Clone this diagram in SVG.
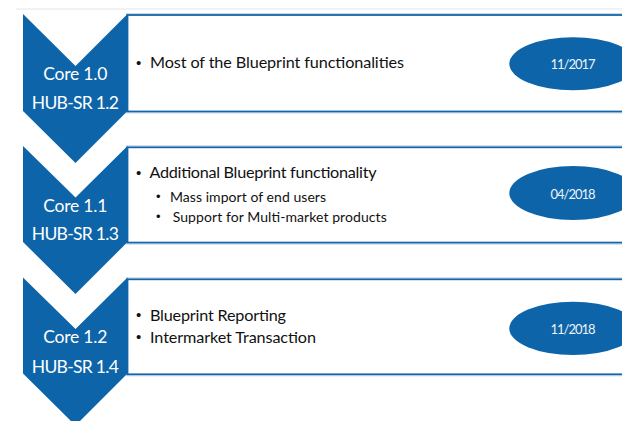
<svg xmlns="http://www.w3.org/2000/svg" width="622" height="421" viewBox="0 0 622 421">
<style>
.chev{fill:#0d64a8;}
.box{fill:#ffffff;stroke:#1565aa;stroke-width:1.8;}
.boxsh{fill:none;stroke:#c9d8e8;stroke-width:1;}
.ell{fill:#0d64a8;}
.ct{font-family:Lato,"Liberation Sans",Arial,sans-serif;font-size:17.5px;fill:#ffffff;text-anchor:middle;}
.dt{font-family:Lato,"Liberation Sans",Arial,sans-serif;font-size:13px;fill:#eef3f8;text-anchor:middle;}
.bt{font-family:Lato,"Liberation Sans",Arial,sans-serif;font-size:16.2px;fill:#111111;}
.st{font-family:Lato,"Liberation Sans",Arial,sans-serif;font-size:14px;fill:#111111;}
.bl{font-family:"Liberation Sans",Arial,sans-serif;font-size:15px;fill:#111111;}
.sbl{font-family:"Liberation Sans",Arial,sans-serif;font-size:13px;fill:#111111;}
</style>
<rect width="622" height="421" fill="#ffffff"/>
<line x1="16" y1="9" x2="622" y2="9" stroke="#e6e6e6" stroke-width="1.2"/>
<g id="connectors"></g>

<g id="node1">
<rect class="boxsh" x="126.5" y="13.5" width="520" height="99.5"/>
<rect class="box" x="127.5" y="15" width="520" height="96.5"/>
<polygon class="chev" points="23,14 75.5,66 127.5,14 127.5,111 75.5,163 23,111"/>
<text class="ct" x="75.3" y="80" textLength="64">Core 1.0</text>
<text class="ct" x="75.3" y="109" textLength="87">HUB-SR 1.2</text>
<text class="bl" x="136" y="67.5">•</text>
<text class="bt" x="150" y="68" textLength="254">Most of the Blueprint functionalities</text>
<ellipse class="ell" cx="573" cy="63.8" rx="63.7" ry="26.5"/>
<text class="dt" x="573" y="69" textLength="45">11/2017</text>
</g>

<g id="node2">
<rect class="boxsh" x="126.5" y="145.7" width="520" height="98.5"/>
<rect class="box" x="127.5" y="147.3" width="520" height="95.3"/>
<polygon class="chev" points="23,146 75.5,197.5 127.5,146 127.5,242 75.5,294 23,242"/>
<text class="ct" x="75.3" y="211.7" textLength="64">Core 1.1</text>
<text class="ct" x="75.3" y="240" textLength="87">HUB-SR 1.3</text>
<text class="bl" x="136" y="177.8">•</text>
<text class="bt" x="149.5" y="178.3" textLength="227">Additional Blueprint functionality</text>
<text class="sbl" x="156" y="201.2">•</text>
<text class="st" x="170" y="201.7" textLength="156">Mass import of end users</text>
<text class="sbl" x="156" y="221.2">•</text>
<text class="st" x="172.7" y="221.7" textLength="214">Support for Multi-market products</text>
<ellipse class="ell" cx="573" cy="193" rx="63.7" ry="27"/>
<text class="dt" x="573" y="198.5" textLength="45">04/2018</text>
</g>

<g id="node3">
<rect class="boxsh" x="126.5" y="277.8" width="520" height="98"/>
<rect class="box" x="127.5" y="279.3" width="520" height="95"/>
<polygon class="chev" points="23,277.5 75.5,329 127.5,277.5 127.5,373.5 75.5,425.5 23,373.5"/>
<text class="ct" x="75.3" y="343.3" textLength="64">Core 1.2</text>
<text class="ct" x="75.3" y="372.7" textLength="87">HUB-SR 1.4</text>
<text class="bl" x="136" y="320.2">•</text>
<text class="bt" x="150" y="320.7" textLength="136">Blueprint Reporting</text>
<text class="bl" x="136" y="342.2">•</text>
<text class="bt" x="150" y="342.7" textLength="166">Intermarket Transaction</text>
<ellipse class="ell" cx="573" cy="328.4" rx="63.7" ry="26.7"/>
<text class="dt" x="573" y="333.5" textLength="45">11/2018</text>
</g>
</svg>
